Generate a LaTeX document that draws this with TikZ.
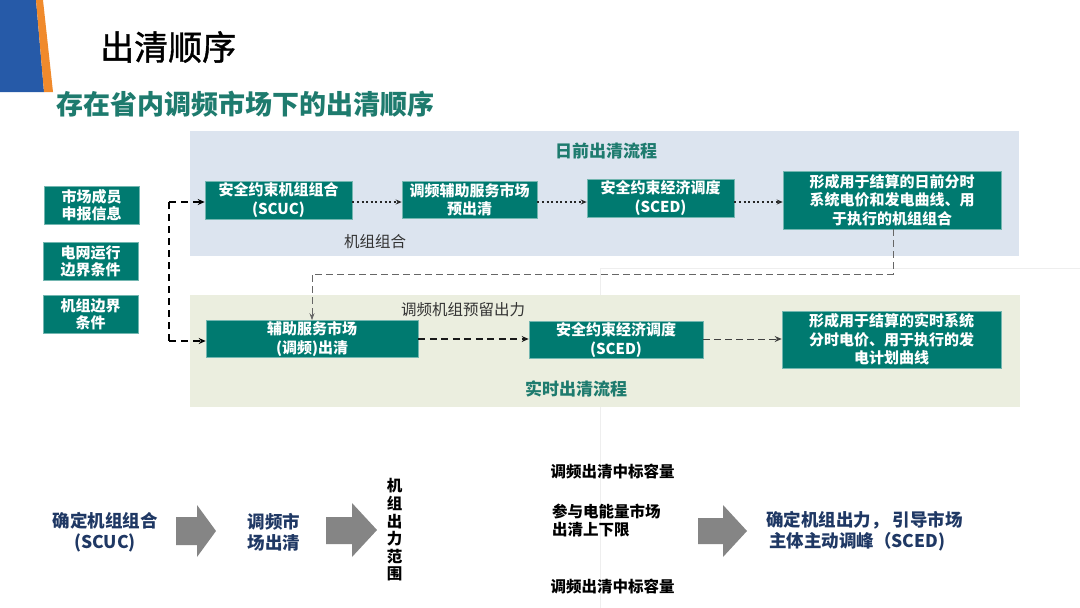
\documentclass[tikz,border=0pt]{standalone}
\usepackage{fontspec}
\setmainfont{Noto Sans CJK SC}
\newfontfamily\midfont{Noto Sans CJK SC}[FakeBold=1.2]
\usetikzlibrary{arrows.meta}
\definecolor{tealbox}{RGB}{0,122,112}
\definecolor{tealtxt}{RGB}{30,123,110}
\definecolor{panelblue}{RGB}{220,228,239}
\definecolor{panelgreen}{RGB}{235,238,223}
\definecolor{navy}{RGB}{31,56,100}
\definecolor{decoblue}{RGB}{38,90,168}
\definecolor{decoorange}{RGB}{240,138,44}
\definecolor{arrowgray}{RGB}{133,133,133}
\definecolor{faint}{RGB}{238,238,238}
\tikzset{
  box/.style={fill=tealbox, draw=tealbox!55!white, line width=0.6pt, text=white,
    font=\bfseries\fontsize{15}{18.5}\selectfont, align=center, inner sep=0pt},
  inbox/.style={box, font=\bfseries\fontsize{15}{17}\selectfont, minimum width=95pt, minimum height=38pt},
  dotarrow/.style={line width=1.4pt, draw=black!85, dash pattern=on 2pt off 2.6pt, -{Stealth[length=6pt,width=5pt]}},
  leftdash/.style={line width=1.6pt, draw=black, dash pattern=on 7pt off 5pt},
  bigdash/.style={line width=1.6pt, draw=black!90, dash pattern=on 7pt off 4.5pt, -{Stealth[length=7pt,width=6pt]}},
  thindash/.style={line width=1pt, draw=black!75, dash pattern=on 7pt off 4pt, -{Stealth[length=7pt,width=6pt]}},
  backdash/.style={line width=1pt, draw=black!60, dash pattern=on 7pt off 4pt},
  plainlabel/.style={font=\fontsize{15.5}{18}\selectfont, text=black!80, inner sep=0pt},
  bluetxt/.style={font=\bfseries\fontsize{17.5}{21}\selectfont, text=navy, inner sep=0pt},
  blacktxt/.style={font=\bfseries\fontsize{15.5}{18}\selectfont, text=black, inner sep=0pt},
}
\begin{document}
\begin{tikzpicture}[x=1pt,y=-1pt]
\useasboundingbox (0,0) rectangle (1080,608);
\fill[white] (0,0) rectangle (1080,608);
% faint slide artifacts
\draw[faint, line width=0.8pt] (600,268) -- (600,608);
\draw[faint, line width=0.8pt] (600,268) -- (1080,268);
% decoration
\fill[decoblue] (0,0) -- (36,0) -- (44,92) -- (0,92) -- cycle;
\fill[decoorange] (36,0) -- (43,0) -- (53,92) -- (44,92) -- cycle;
% titles
\node[anchor=west, inner sep=0pt, font=\midfont\fontsize{34}{40}\selectfont] (title) at (100,47) {出清顺序};
\node[anchor=west, inner sep=0pt, text=tealtxt, font=\bfseries\fontsize{27}{32}\selectfont] (subtitle) at (56,104) {存在省内调频市场下的出清顺序};
% panels
\fill[panelblue] (190,131) rectangle (1019,256);
\fill[panelgreen] (190,295) rectangle (1020,407);
\node[text=tealtxt, font=\bfseries\fontsize{17}{20}\selectfont, inner sep=0pt] (daytitle) at (606,151) {日前出清流程};
\node[text=tealtxt, font=\bfseries\fontsize{17}{20}\selectfont, inner sep=0pt] (rttitle) at (576,389) {实时出清流程};
% input boxes
\node[inbox] (in1) at (91.5,205) {市场成员\\申报信息};
\node[inbox] (in2) at (90.5,261) {电网运行\\边界条件};
\node[inbox] (in3) at (90.5,314) {机组边界\\条件};
% top row
\node[box, minimum width=147pt, minimum height=38pt] (scuc) at (278.5,200) {安全约束机组组合\\(SCUC)};
\node[box, minimum width=135pt, minimum height=37pt] (pre) at (469.5,200) {调频辅助服务市场\\预出清};
\node[box, minimum width=147pt, minimum height=38pt] (sced1) at (660.5,198) {安全约束经济调度\\(SCED)};
\node[box, minimum width=218pt, minimum height=58pt] (form1) at (892,200) {形成用于结算的日前分时\\系统电价和发电曲线、用\\于执行的机组组合};
% bottom row
\node[box, minimum width=212pt, minimum height=37pt] (aux) at (312,339) {辅助服务市场\\(调频)出清};
\node[box, minimum width=174pt, minimum height=37pt] (sced2) at (616,340) {安全约束经济调度\\(SCED)};
\node[box, minimum width=219pt, minimum height=57pt] (form2) at (891.5,339.5) {形成用于结算的实时系统\\分时电价、用于执行的发\\电计划曲线};
% labels
\node[plainlabel] (lab1) at (375,242) {机组组合};
\node[plainlabel] (lab2) at (463,310) {调频机组预留出力};
% connectors top
\draw[dotarrow] (scuc.east |- 0,202) -- (pre.west |- 0,202);
\draw[dotarrow] (pre.east |- 0,202) -- (sced1.west |- 0,202);
\draw[dotarrow] (sced1.east |- 0,202) -- (form1.west |- 0,202);
% connectors bottom
\draw[bigdash] (aux.east |- 0,339) -- (sced2.west |- 0,339);
\draw[thindash] (sced2.east |- 0,339) -- (form2.west |- 0,339);
% left connector
\coordinate (lv) at (169,202);
\draw[leftdash] (lv) -- (169,341);
\draw[leftdash, -{Stealth[length=7pt,width=6pt]}] (lv) -- (scuc.west |- lv);
\draw[leftdash, -{Stealth[length=7pt,width=6pt]}] (169,341) -- (aux.west |- 0,341);
% back connector
\coordinate (bk) at (893,274);
\draw[backdash, -{Stealth[length=7pt,width=5pt]}] (form1.south -| bk) -- (bk) -| (aux.north);
% bottom section
\node[bluetxt, align=center] (b1) at (105,532) {确定机组组合\\(SCUC)};
\fill[arrowgray] (176,517) -- (197,517) -- (197,505) -- (216,531) -- (197,557) -- (197,545) -- (176,545) -- cycle;
\node[bluetxt, align=center] (b2) at (274,532) {调频市\\场出清};
\fill[arrowgray] (326,517) -- (352,517) -- (352,503) -- (377,530) -- (352,557) -- (352,544) -- (326,544) -- cycle;
\node[blacktxt, align=center, font=\bfseries\fontsize{15.5}{17.6}\selectfont] (b3) at (394.5,530) {机\\组\\出\\力\\范\\围};
\node[blacktxt] (t1) at (612.5,472) {调频出清中标容量};
\node[blacktxt, anchor=west, align=left] (t2) at (552,521) {参与电能量市场\\出清上下限};
\node[blacktxt] (t3) at (612.5,587) {调频出清中标容量};
\fill[arrowgray] (698,518) -- (723,518) -- (723,505) -- (747,531) -- (723,557) -- (723,544) -- (698,544) -- cycle;
\node[bluetxt, anchor=west, align=left] (b4) at (766,531) {确定机组出力， 引导市场\\\,主体主动调峰（SCED)};
\end{tikzpicture}
\end{document}
